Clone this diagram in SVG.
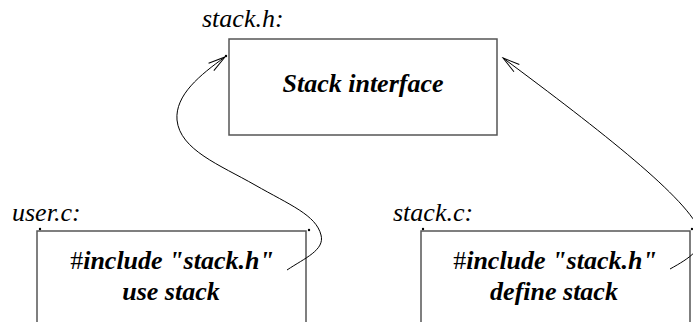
<svg xmlns="http://www.w3.org/2000/svg" width="693" height="322" viewBox="0 0 693 322">
<style>
.box{fill:none;stroke:#555;stroke-width:1.5}
.lbl{font-family:'Liberation Serif',serif;font-style:italic;font-size:26px;fill:#000}
.txt{font-family:'Liberation Serif',serif;font-style:italic;font-weight:bold;font-size:26px;fill:#000;text-anchor:middle}
.hash{font-style:normal;font-weight:normal}
.conn{fill:none;stroke:#000;stroke-width:1}
.dot{fill:#000}
</style>
<defs>
<marker id="arr" markerUnits="userSpaceOnUse" viewBox="-19 -7 21 14" refX="0" refY="0" markerWidth="21" markerHeight="14" orient="auto">
<path d="M -17,-4.5 L 0,0 L -17,4.5" fill="none" stroke="#000" stroke-width="1"/>
</marker>
</defs>
<rect width="693" height="322" fill="#fff"/>
<g id="stack_h">
<text class="lbl" x="202" y="27">stack.h:</text>
<rect class="box" x="229" y="39" width="268" height="96"/>
<text class="txt" x="363" y="92">Stack interface</text>
</g>
<g id="user_c">
<text class="lbl" x="12" y="221">user.c:</text>
<polyline class="box" points="37,323 37,231 306,231 306,323"/>
<circle class="dot" cx="40" cy="229" r="1.2"/>
<circle class="dot" cx="309" cy="230" r="1.2"/>
<text class="txt" x="172" y="269"><tspan class="hash">#</tspan>include "stack.h"</text>
<text class="txt" x="171" y="300">use stack</text>
</g>
<g id="stack_c">
<text class="lbl" x="393" y="221">stack.c:</text>
<polyline class="box" points="421,323 421,231 690,231 690,323"/>
<circle class="dot" cx="423" cy="229" r="1.2"/>
<circle class="dot" cx="692" cy="229" r="1.2"/>
<text class="txt" x="555" y="269"><tspan class="hash">#</tspan>include "stack.h"</text>
<text class="txt" x="554" y="300">define stack</text>
</g>
<g id="connectors">
<path class="conn" marker-end="url(#arr)" d="M 287,270 C 305,258 325,250 321,235 C 316,215 290,205 255,185 C 220,165 180,150 177,120 C 175,95 200,75 225,57"/>
<circle class="dot" cx="226" cy="56" r="1.2"/>
<path class="conn" marker-end="url(#arr)" d="M 670,269 C 690,258 705,248 700,232 C 690,200 600,130 503,58"/>
</g>
</svg>
